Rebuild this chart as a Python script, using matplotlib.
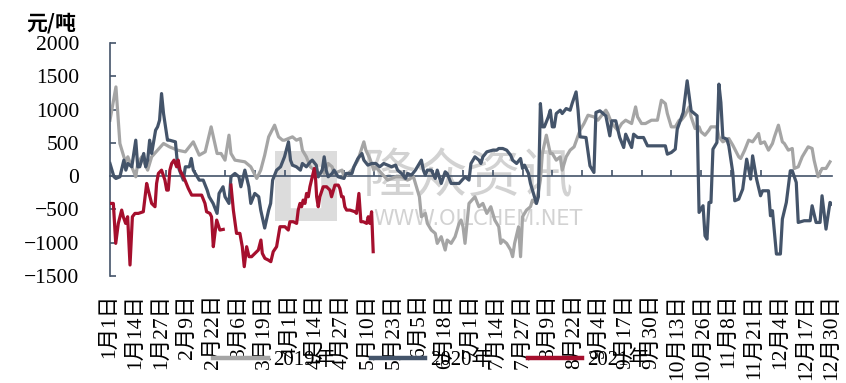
import numpy as np
import matplotlib
matplotlib.use("Agg")
import matplotlib.pyplot as plt
from matplotlib.patches import Rectangle

plt.rcParams['font.family'] = ['Liberation Serif', 'Noto Sans CJK SC']
plt.rcParams['axes.unicode_minus'] = True

# x positions = day of year (0 = 1月1日), values in 元/吨
days_2019 = [0, 3, 5, 7, 8, 9, 11, 13, 14, 16, 19, 21, 24, 27, 30, 34, 38, 42, 45, 48,
             51, 54, 56, 58, 60, 61, 63, 68, 71, 74, 76, 78, 80, 83, 85, 87, 88, 92, 94, 96,
             97, 99, 101, 103, 105, 107, 108, 110, 112, 113, 117, 118, 122, 125, 128, 129, 131, 133, 134, 137,
             140, 144, 147, 150, 153, 155, 156, 157, 159, 160, 162, 164, 165, 167, 169, 170, 172, 174, 176, 177,
             178, 179, 181, 184, 186, 188, 190, 192, 194, 196, 197, 198, 200, 202, 203, 204, 206, 207, 208, 210,
             212, 213, 215, 217, 218, 220, 222, 223, 225, 227, 228, 230, 232, 234, 237, 239, 241, 244, 246, 250,
             251, 253, 256, 258, 260, 263, 265, 266, 268, 270, 273, 276, 278, 280, 281, 283, 285, 287, 288, 290,
             292, 293, 295, 297, 298, 300, 302, 303, 306, 307, 309, 312, 314, 317, 318, 320, 322, 324, 327, 328,
             330, 332, 334, 335, 337, 339, 340, 342, 344, 345, 347, 349, 352, 354, 355, 357, 359, 361, 363]
vals_2019 = [840, 1340, 490, 290, 215, 290, 140, -10, 190, 290, 90, 290, 390, 490, 440, 390, 365, 515, 315, 365,
             740, 340, 340, 240, 615, 340, 240, 215, 140, -35, 90, 315, 590, 765, 590, 540, 540, 590, 540, 565,
             390, 290, 140, 90, -10, 90, 40, 190, 140, 40, 90, -10, 90, 240, 515, 390, 265, 90, 140, 40,
             -60, -10, -10, -60, -10, -210, -310, -610, -560, -710, -810, -860, -1010, -910, -1110, -960, -1010, -910, -710, -660,
             -760, -1010, -410, -310, -460, -410, -560, -460, -660, -760, -1010, -960, -1010, -1110, -1210, -1010, -760, -1210, -610, -510,
             -460, -360, -410, -60, 340, 615, 340, 340, 240, 290, 90, 290, 390, 440, 690, 790, 915, 890, 840, 990,
             940, 790, 690, 790, 840, 790, 1040, 890, 790, 790, 840, 840, 1140, 1090, 940, 740, 740, 840, 840, 915,
             1040, 890, 715, 740, 665, 615, 690, 740, 740, 590, 515, 565, 465, 290, 265, 390, 540, 515, 640, 490,
             515, 390, 490, 590, 765, 515, 490, 390, 415, 115, 140, 290, 440, 415, 240, -10, 115, 115, 215]

days_2020 = [0, 2, 3, 5, 7, 8, 9, 11, 13, 14, 15, 17, 18, 19, 20, 21, 23, 24, 25, 26,
             27, 29, 30, 33, 34, 35, 37, 38, 40, 41, 42, 44, 45, 47, 49, 50, 52, 54, 55, 57,
             58, 60, 61, 63, 65, 66, 68, 70, 71, 73, 75, 76, 78, 80, 81, 82, 84, 86, 88, 90,
             91, 92, 94, 96, 97, 99, 101, 102, 104, 105, 107, 108, 109, 110, 112, 113, 115, 118, 119, 122,
             123, 125, 127, 128, 130, 132, 134, 136, 138, 140, 142, 144, 145, 147, 149, 150, 152, 154, 155, 157,
             158, 159, 160, 162, 164, 165, 167, 169, 170, 172, 176, 179, 181, 182, 184, 186, 187, 188, 190, 193,
             195, 196, 198, 200, 202, 203, 205, 207, 208, 209, 211, 212, 214, 215, 216, 217, 218, 219, 221, 222,
             223, 224, 225, 227, 228, 230, 232, 233, 235, 236, 237, 240, 242, 244, 245, 247, 250, 252, 253, 255,
             257, 259, 260, 263, 264, 266, 269, 271, 276, 280, 281, 283, 285, 286, 289, 291, 293, 295, 296, 297,
             299, 300, 301, 302, 303, 304, 306, 307, 308, 309, 311, 312, 314, 315, 317, 319, 321, 323, 324, 326,
             328, 329, 332, 333, 334, 336, 338, 339, 341, 343, 344, 346, 347, 350, 353, 354, 356, 358, 359, 361,
             363, 364]
vals_2020 = [190, -10, -35, -10, 240, 90, 190, 140, 540, 140, 140, 340, 140, 240, 540, 340, 690, 740, 840, 1240,
             940, 540, 540, 515, 190, 90, -60, 140, 140, 265, 90, -10, -60, -60, -210, -310, -410, -560, -260, -160,
             -310, -410, -10, 40, -10, -160, 90, -160, -410, -260, -310, -510, -780, -510, -410, -60, 90, 140, 290, 515,
             240, 165, 140, 90, 190, 140, 215, 240, 165, -10, 90, 290, 90, -10, 40, 90, -10, -35, 40, 40,
             140, 265, 340, 240, 165, 190, 190, 140, 190, 165, 140, 165, 90, 40, -35, 40, 15, 90, 140, 240,
             90, 15, 90, 90, -35, 90, -110, 65, 40, -110, -110, -10, -60, 190, 290, 240, 190, 290, 365, 390,
             390, 415, 415, 390, 315, 240, 190, 265, 115, 165, 40, -110, -310, -410, -310, 1090, 740, 740, 890, 990,
             740, 740, 940, 990, 940, 1015, 990, 1090, 1265, 990, 590, 580, 155, 55, 956, 981, 906, 605, 831, 831,
             580, 430, 630, 430, 630, 580, 580, 455, 455, 455, 330, 355, 405, 706, 956, 1432, 981, 931, 906, -545,
             -445, -896, -946, -395, -395, 405, 505, 1382, 1106, 580, 555, 455, 55, -370, -345, -195, 255, -45, 305, -45,
             -295, -220, -220, -595, -520, -1170, -1170, -645, -395, 80, 80, -95, -696, -670, -670, -445, -696, -696, -295, -796,
             -395, -420]

days_2021 = [0, 1.7, 2.9, 4.2, 5.9, 6.7, 7.9, 8.9, 10.1, 11.3, 12.6, 14.3, 16.8, 18.5, 19.3, 21.0, 22.7, 23.5, 24.4, 26.0,
             27.7, 28.6, 29.4, 30.2, 31.1, 32.3, 33.6, 34.4, 35.3, 37.0, 37.8, 39.5, 41.2, 46.2, 47.9, 48.7, 50.4, 51.2, 52.1, 52.9,
             53.8, 55.4, 57.1, 59.0, 61.0, 62.2, 63.8, 65.5, 66.7, 67.7, 68.9, 70.1, 71.4, 73.1, 74.8, 76.1, 76.8, 78.1, 79.8, 81.1,
             82.3, 84.0, 85.7, 88.2, 89.9, 90.7, 92.4, 94.1, 94.9, 95.8, 96.6, 97.4, 98.3, 99.1, 100.0, 100.8, 101.6, 103.0, 103.7, 104.2,
             105.0, 105.8, 107.5, 109.2, 110.9, 111.7, 113.4, 115.1, 115.9, 116.8, 117.6, 118.4, 119.3, 121.0, 123.5, 124.3, 125.5, 126.5, 127.7, 129.4,
             130.2, 131.0, 131.9, 132.7]
vals_2021 = [-410, -410, -1010, -710, -510, -610, -710, -610, -1335, -610, -560, -560, -535, -110, -210, -410, -460, -110, 40, 90,
             -60, -210, -210, 90, 190, 240, 140, 240, 90, -10, -60, -185, -285, -285, -410, -535, -560, -610, -1060, -860,
             -660, -810, -800, np.nan, -135, -510, -860, -860, -1060, -1360, -1060, -1210, -1210, -1160, -1110, -960, -1160, -1235, -1260, -1285,
             -1135, -1060, -760, -760, -810, -685, -685, -710, -510, -410, -460, -360, -410, -260, -310, -160, -60, 115, -60, -310,
             -460, -310, -160, -160, -210, -310, -135, -135, -185, -310, -310, -460, -510, -510, -535, -560, -260, -685, -685, -710,
             -610, -710, -535, -1135]

label_days = list(range(0, 365, 13))
label_text = ['1月1日', '1月14日', '1月27日', '2月9日', '2月22日', '3月6日', '3月19日', '4月1日',
              '4月14日', '4月27日', '5月10日', '5月23日', '6月5日', '6月18日', '7月1日', '7月14日',
              '7月27日', '8月9日', '8月22日', '9月4日', '9月17日', '9月30日', '10月13日', '10月26日',
              '11月8日', '11月21日', '12月4日', '12月17日', '12月30日']
tick_days = list(range(13, 365, 15))

c19, c20, c21 = '#A5A5A5', '#44546A', '#A50F2D'
axis_c = '#44546A'

fig = plt.figure(figsize=(8.46, 3.83), dpi=100)
ax = fig.add_axes([0.130, 0.2794, 0.8534, 0.6084])

# watermark
ax.add_patch(Rectangle((0.229, 0.235), 0.085, 0.30, transform=ax.transAxes,
                       facecolor='#DCDCDC', edgecolor='none', zorder=0))
ax.add_patch(Rectangle((0.247, 0.28), 0.05, 0.20, transform=ax.transAxes,
                       facecolor='white', edgecolor='#DCDCDC', lw=4, zorder=0))
ax.text(0.496, 0.43, '隆众资讯', transform=ax.transAxes, fontsize=38, color='#D2D2D2',
        family='Noto Sans CJK SC', ha='center', va='center', zorder=0)
ax.text(0.51, 0.245, 'WWW.OILCHEM.NET', transform=ax.transAxes, fontsize=15, color='#D2D2D2',
        family='DejaVu Sans', ha='center', va='center', zorder=0)

lw = 2.3
l19, = ax.plot(days_2019, vals_2019, color=c19, lw=lw, label='2019年', zorder=2)
l20, = ax.plot(days_2020, vals_2020, color=c20, lw=lw, label='2020年', zorder=3)
l21, = ax.plot(days_2021, vals_2021, color=c21, lw=lw, label='2021年', zorder=4)

ax.set_xlim(0, 364)
ax.set_ylim(-1500, 2000)
ax.set_yticks(range(-1500, 2001, 500))

for s in ['top', 'right']:
    ax.spines[s].set_visible(False)
ax.spines['left'].set_color(axis_c)
ax.spines['left'].set_linewidth(1.2)
ax.spines['bottom'].set_position(('data', 0))
ax.spines['bottom'].set_color(axis_c)
ax.spines['bottom'].set_linewidth(1.2)
ax.spines['bottom'].set_zorder(1)

ax.set_xticks(tick_days)
ax.tick_params(axis='x', direction='in', length=4, width=1.2, color=axis_c, labelbottom=False)
ax.tick_params(axis='y', direction='in', length=4, width=1.2, color=axis_c, pad=22, labelsize=15.5)

lab = ax.secondary_xaxis('bottom')
lab.set_xticks(label_days, label_text)
lab.spines['bottom'].set_visible(False)
lab.tick_params(length=0, pad=13, labelsize=15.5, labelrotation=90)

fig.text(26 / 846, 1 - 23 / 383, '元/吨', fontsize=15, fontweight='bold',
         family='Noto Sans CJK SC', ha='left', va='center')

leg = fig.legend(handles=[l19, l20, l21], loc='center', bbox_to_anchor=(0.51, 0.06), ncol=3,
                 frameon=False, fontsize=15, handlelength=2.6, handletextpad=0.25, columnspacing=1.7)
for h in leg.get_lines():
    h.set_linewidth(3.2)

fig.savefig('out.png', dpi=100)
